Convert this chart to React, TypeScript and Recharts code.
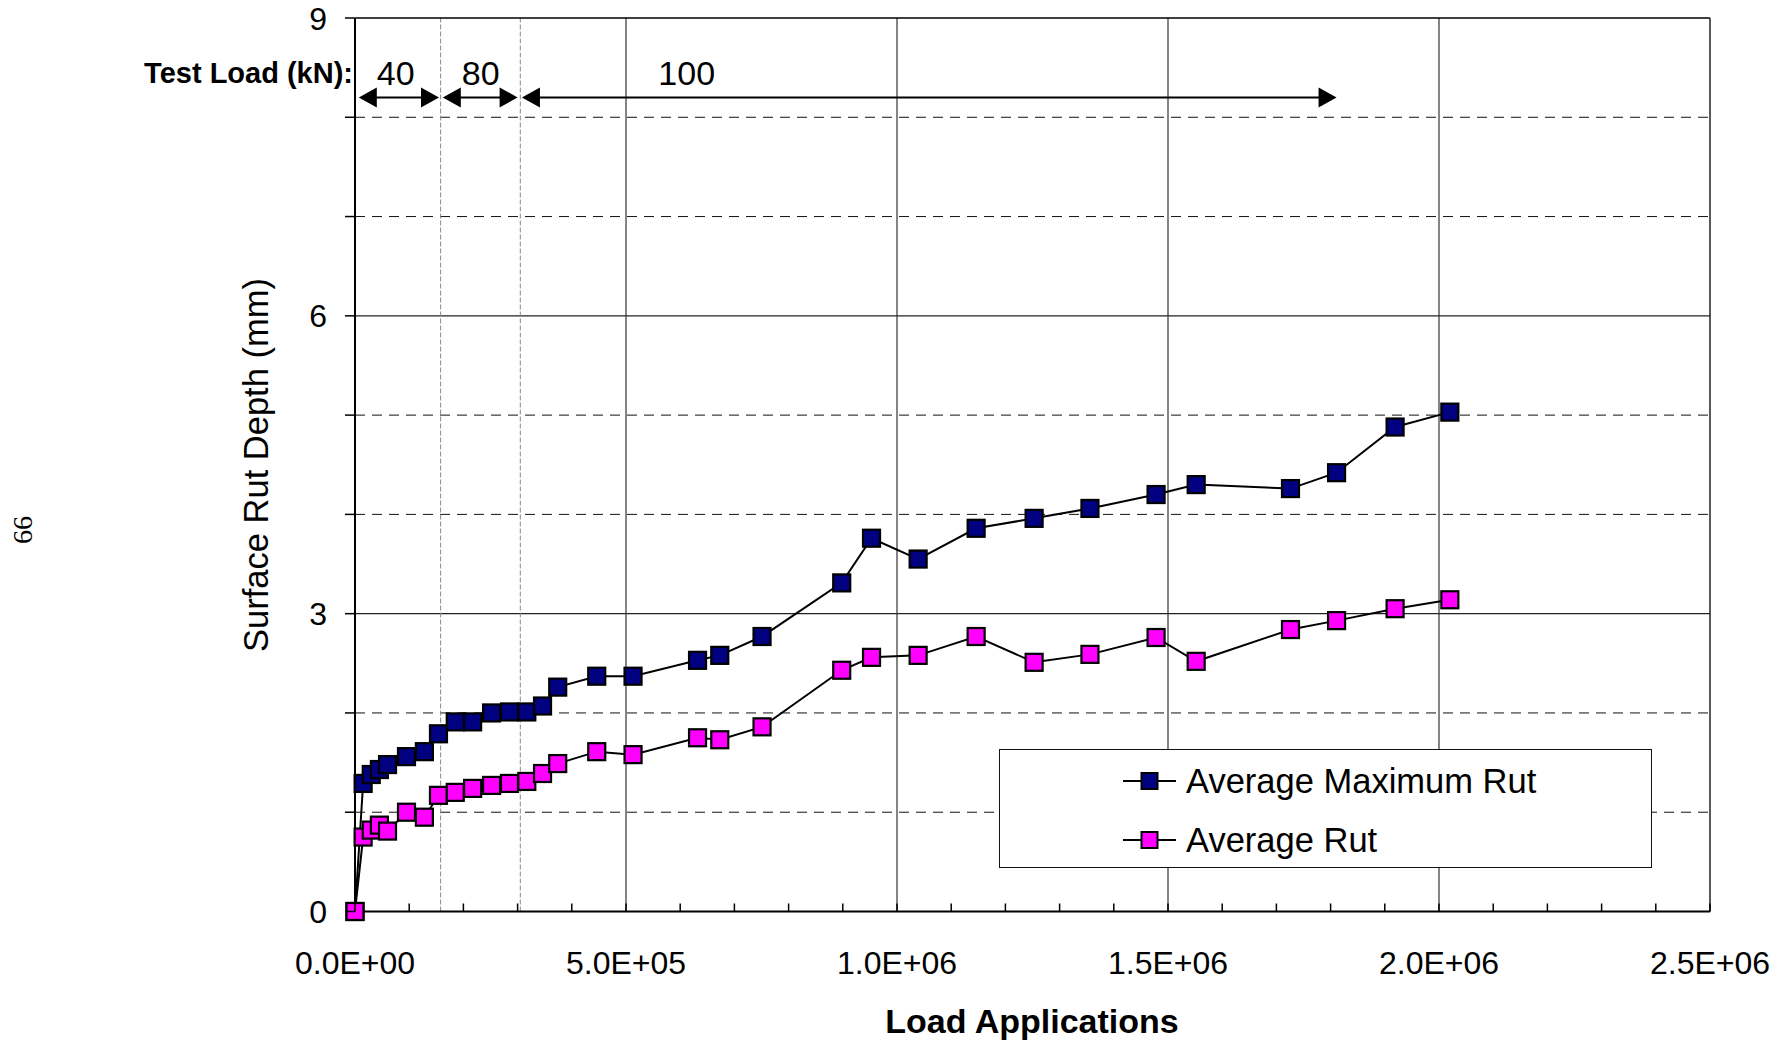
import React from 'react';
import { LineChart, Line, XAxis, YAxis, ReferenceLine, ReferenceDot, Legend } from 'recharts';

// load repetitions at each survey
const loadApplications = [
  0, 15000, 30000, 45000, 60000, 95000, 128000, 154000, 185000, 217000, 252000,
  285000, 317000, 346000, 374000, 446000, 513000, 632000, 673000, 751000, 898000,
  953000, 1039000, 1146000, 1253000, 1356000, 1478000, 1552000, 1726000, 1811000,
  1919000, 2020000,
];

// rut depths in mm
const avgMaxRut = [
  0, 1.29, 1.38, 1.43, 1.48, 1.56, 1.61, 1.79, 1.91, 1.91, 2.0, 2.01, 2.01, 2.07,
  2.26, 2.37, 2.37, 2.53, 2.58, 2.77, 3.31, 3.76, 3.55, 3.86, 3.96, 4.06, 4.2, 4.3,
  4.26, 4.42, 4.88, 5.03,
];
const avgRut = [
  0, 0.75, 0.82, 0.87, 0.81, 1.0, 0.95, 1.17, 1.2, 1.24, 1.27, 1.29, 1.31, 1.39,
  1.49, 1.61, 1.58, 1.75, 1.73, 1.86, 2.43, 2.56, 2.58, 2.77, 2.51, 2.59, 2.76, 2.52,
  2.84, 2.93, 3.05, 3.14,
];

const xTicks = Array.from({ length: 26 }, (_, i) => i * 100000);
const xTickLabels: Record<number, string> = {
  0: '0.0E+00',
  500000: '5.0E+05',
  1000000: '1.0E+06',
  1500000: '1.5E+06',
  2000000: '2.0E+06',
  2500000: '2.5E+06',
};
const yTicks = [0, 1, 2, 3, 4, 5, 6, 7, 8, 9];
const yTickLabels: Record<number, string> = { 0: '0', 3: '3', 6: '6', 9: '9' };
const yMajorGrid = [3, 6];
const yMinorGrid = [1, 2, 4, 5, 7, 8];
const xMajorGrid = [500000, 1000000, 1500000, 2000000];

// where the wheel load was stepped up
const loadChanges = [158000, 305000];
const testLoads = [
  { kN: '40', from: 7000, to: 155000, labelAt: 75000 },
  { kN: '80', from: 162000, to: 300000, labelAt: 232000 },
  { kN: '100', from: 308000, to: 1811000, labelAt: 612000 },
];

const series = [
  { key: 'maxRut', name: 'Average Maximum Rut', color: '#000080' },
  { key: 'rut', name: 'Average Rut', color: '#FF00FF' },
];

const data = loadApplications.map((n, i) => ({ n, maxRut: avgMaxRut[i], rut: avgRut[i] }));

const FONT = '"Liberation Sans", Arial, Helvetica, sans-serif';

const XTick = ({ x, y, payload }: any) => {
  const label = xTickLabels[payload.value];
  return (
    <g>
      <line x1={x} x2={x} y1={y} y2={y - 8} stroke="#000" strokeWidth={1.5} />
      {label && (
        <text x={x} y={y + 62} textAnchor="middle" fontSize={32} fontFamily={FONT} fill="#000">
          {label}
        </text>
      )}
    </g>
  );
};

const YTick = ({ x, y, payload }: any) => {
  const label = yTickLabels[payload.value];
  return (
    <g>
      <line x1={x - 10} x2={x} y1={y} y2={y} stroke="#000" strokeWidth={1.5} />
      {label && (
        <text x={x - 28} y={y + 11.5} textAnchor="end" fontSize={32} fontFamily={FONT} fill="#000">
          {label}
        </text>
      )}
    </g>
  );
};

const squareDot = (color: string, name: string) => (props: any) => {
  const { cx, cy, index } = props;
  return (
    <rect
      key={`${name}-${index}`}
      x={cx - 8.5}
      y={cy - 8.5}
      width={17}
      height={17}
      fill={color}
      stroke="#000"
      strokeWidth={2.2}
    />
  );
};

// double-headed arrow spanning one load stage
const arrowShape = (props: any) => {
  const { x1, x2, y1 } = props;
  const len = 18;
  const half = 10;
  return (
    <g>
      <line x1={x1 + 4} x2={x2 - 4} y1={y1} y2={y1} stroke="#000" strokeWidth={2} />
      <polygon points={`${x1},${y1} ${x1 + len},${y1 - half} ${x1 + len},${y1 + half}`} fill="#000" />
      <polygon points={`${x2},${y1} ${x2 - len},${y1 - half} ${x2 - len},${y1 + half}`} fill="#000" />
    </g>
  );
};

const LegendBox = () => (
  <div
    style={{
      boxSizing: 'border-box',
      width: 653,
      height: 119,
      border: '1.5px solid #111',
      background: '#fff',
      position: 'relative',
      fontFamily: FONT,
    }}
  >
    {series.map((s, i) => (
      <div
        key={s.key}
        style={{
          position: 'absolute',
          left: 123,
          top: 11 + i * 59,
          height: 40,
          display: 'flex',
          alignItems: 'center',
          whiteSpace: 'nowrap',
        }}
      >
        <svg width={53} height={40}>
          <line x1={0} x2={53} y1={20} y2={20} stroke="#000" strokeWidth={2} />
          <rect x={18.5} y={12} width={16} height={16} fill={s.color} stroke="#000" strokeWidth={2} />
        </svg>
        <span style={{ fontSize: 34.5, marginLeft: 10, color: '#000' }}>{s.name}</span>
      </div>
    ))}
  </div>
);

export default function App() {
  return (
    <div style={{ position: 'absolute', left: 0, top: 0, width: 1788, height: 1043, background: '#fff' }}>
      <LineChart
        width={1788}
        height={1043}
        data={data}
        margin={{ top: 18, right: 78, bottom: 71.5, left: 295 }}
      >
        {yMinorGrid.map((v) => (
          <ReferenceLine key={`ym-${v}`} y={v} stroke="#111" strokeWidth={1} strokeDasharray="10 7" />
        ))}
        {yMajorGrid.map((v) => (
          <ReferenceLine key={`yM-${v}`} y={v} stroke="#222" strokeWidth={1.2} />
        ))}
        {xMajorGrid.map((v) => (
          <ReferenceLine key={`xM-${v}`} x={v} stroke="#333" strokeWidth={1.2} />
        ))}
        {loadChanges.map((v) => (
          <ReferenceLine key={`lc-${v}`} x={v} stroke="#888" strokeWidth={1} strokeDasharray="5 2" />
        ))}
        <ReferenceLine y={9} stroke="#000" strokeWidth={1.5} />
        <ReferenceLine x={2500000} stroke="#222" strokeWidth={1.5} />
        <XAxis
          dataKey="n"
          type="number"
          domain={[0, 2500000]}
          ticks={xTicks}
          interval={0}
          tickSize={0}
          tickMargin={0}
          height={60}
          tick={<XTick />}
          axisLine={{ stroke: '#000', strokeWidth: 2 }}
          tickLine={false}
        />
        <YAxis
          type="number"
          domain={[0, 9]}
          ticks={yTicks}
          interval={0}
          tickSize={0}
          tickMargin={0}
          width={60}
          tick={<YTick />}
          axisLine={{ stroke: '#000', strokeWidth: 2 }}
          tickLine={false}
        />
        {testLoads.map((t) => (
          <ReferenceLine
            key={`arrow-${t.kN}`}
            segment={[
              { x: t.from, y: 8.2 },
              { x: t.to, y: 8.2 },
            ]}
            shape={arrowShape}
          />
        ))}
        {testLoads.map((t) => (
          <ReferenceDot
            key={`kn-${t.kN}`}
            x={t.labelAt}
            y={8.45}
            r={0}
            shape={(p: any) => (
              <text x={p.cx} y={p.cy + 12} textAnchor="middle" fontSize={34} fontFamily={FONT} fill="#000">
                {t.kN}
              </text>
            )}
          />
        ))}
        <ReferenceDot
          x={0}
          y={8.45}
          r={0}
          shape={(p: any) => (
            <text x={p.cx - 2} y={p.cy + 10} textAnchor="end" fontSize={29} fontWeight="bold" fontFamily={FONT} fill="#000">
              Test Load (kN):
            </text>
          )}
        />
        {series.map((s) => (
          <Line
            key={s.key}
            dataKey={s.key}
            name={s.name}
            stroke="#000"
            strokeWidth={2}
            dot={squareDot(s.color, s.key)}
            activeDot={false}
            isAnimationActive={false}
          />
        ))}
        <Legend
          layout="vertical"
          align="center"
          verticalAlign="middle"
          wrapperStyle={{ left: 999, top: 749, width: 653, height: 119 }}
          content={() => <LegendBox />}
        />
      </LineChart>
      <svg
        width={1788}
        height={1043}
        style={{ position: 'absolute', left: 0, top: 0, pointerEvents: 'none' }}
      >
        <text
          transform="translate(268,465) rotate(-90)"
          textAnchor="middle"
          fontSize={34.5}
          fontFamily={FONT}
          fill="#000"
        >
          Surface Rut Depth (mm)
        </text>
        <text x={1032} y={1033} textAnchor="middle" fontSize={34} fontWeight="bold" fontFamily={FONT} fill="#000">
          Load Applications
        </text>
        <text
          transform="translate(32,530) rotate(-90)"
          textAnchor="middle"
          fontSize={28}
          fontFamily='"Liberation Serif", "Times New Roman", serif'
          fill="#000"
        >
          66
        </text>
      </svg>
    </div>
  );
}
